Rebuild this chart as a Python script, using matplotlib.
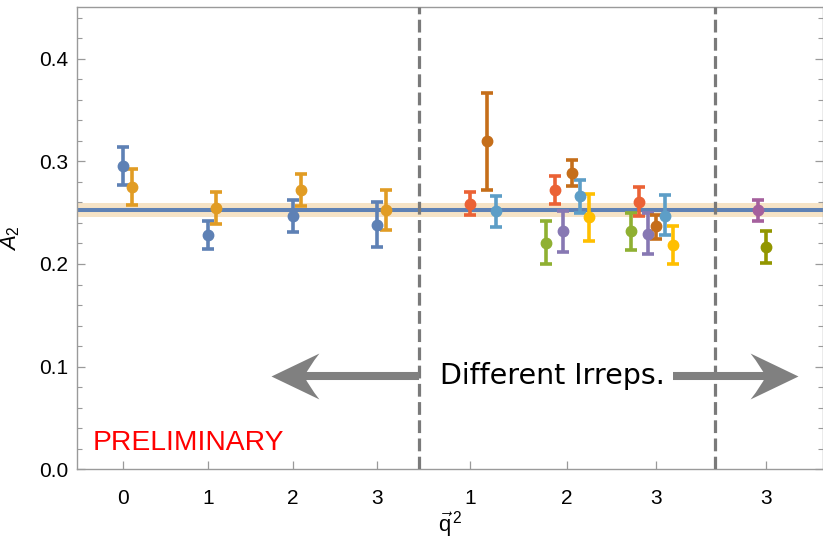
import matplotlib
matplotlib.use('Agg')
import matplotlib.pyplot as plt
from matplotlib.path import Path
from matplotlib.ticker import MultipleLocator

plt.rcParams['font.family'] = ['Liberation Sans', 'DejaVu Sans']
plt.rcParams['mathtext.fontset'] = 'custom'
plt.rcParams['mathtext.rm'] = 'Liberation Sans'
plt.rcParams['mathtext.it'] = 'Liberation Sans:italic'

# ---- data ----
# first block: q^2 = 0..3, two series
blue_x = [0.0, 1.0, 2.0, 3.0]
blue_y = [0.295, 0.228, 0.247, 0.238]
blue_lo = [0.2765, 0.2147, 0.2316, 0.2169]
blue_hi = [0.3141, 0.2423, 0.2623, 0.2603]

orange_x = [0.1, 1.1, 2.1, 3.1]
orange_y = [0.275, 0.2545, 0.2717, 0.2521]
orange_lo = [0.2574, 0.2388, 0.2560, 0.2332]
orange_hi = [0.2928, 0.2697, 0.2873, 0.2717]

# second block: moving frames, one colour per irrep
green_x = [5.0, 6.0]
green_y = [0.2208, 0.2323]
green_lo = [0.2003, 0.2137]
green_hi = [0.2420, 0.2496]

red_x = [4.1, 5.1, 6.1]
red_y = [0.2584, 0.2723, 0.2606]
red_lo = [0.2479, 0.2589, 0.2463]
red_hi = [0.2697, 0.2853, 0.2750]

purple_x = [5.2, 6.2]
purple_y = [0.2326, 0.2290]
purple_lo = [0.2120, 0.2095]
purple_hi = [0.2515, 0.2496]

brown_x = [4.3, 5.3, 6.3]
brown_y = [0.3193, 0.2887, 0.2371]
brown_lo = [0.2723, 0.2756, 0.2241]
brown_hi = [0.3669, 0.3017, 0.2479]

lblue_x = [4.4, 5.4, 6.4]
lblue_y = [0.2518, 0.2665, 0.2472]
lblue_lo = [0.2365, 0.2501, 0.2283]
lblue_hi = [0.2658, 0.2821, 0.2668]

yellow_x = [5.5, 6.5]
yellow_y = [0.2456, 0.2186]
yellow_lo = [0.2225, 0.1997]
yellow_hi = [0.2681, 0.2371]

# third block
magenta_x = [7.5]
magenta_y = [0.2521]
magenta_lo = [0.2423]
magenta_hi = [0.2626]

olive_x = [7.6]
olive_y = [0.2169]
olive_lo = [0.2013]
olive_hi = [0.2326]

# fit result
fit_value = 0.2525
fit_err = 0.007

tick_pos = [0, 1, 2, 3, 4.1, 5.24, 6.3, 7.6]
tick_labels = ['0', '1', '2', '3', '1', '2', '3', '3']
separators = [3.5, 6.99]

series = [
    (blue_x, blue_y, blue_lo, blue_hi, '#5E81B5'),
    (orange_x, orange_y, orange_lo, orange_hi, '#E19C24'),
    (green_x, green_y, green_lo, green_hi, '#8FB032'),
    (red_x, red_y, red_lo, red_hi, '#EB6235'),
    (purple_x, purple_y, purple_lo, purple_hi, '#8778B3'),
    (brown_x, brown_y, brown_lo, brown_hi, '#C56E1A'),
    (lblue_x, lblue_y, lblue_lo, lblue_hi, '#5D9EC7'),
    (yellow_x, yellow_y, yellow_lo, yellow_hi, '#FFBF00'),
    (magenta_x, magenta_y, magenta_lo, magenta_hi, '#A5609D'),
    (olive_x, olive_y, olive_lo, olive_hi, '#929600'),
]

fig = plt.figure(figsize=(8.23, 5.41), dpi=100)
ax = fig.add_axes([0.0932, 0.1325, 0.9068, 0.854])

frame_col = '#9a9a9a'

# fit band and line
ax.axhspan(fit_value - fit_err, fit_value + fit_err, color='#F6E3C6', zorder=1, lw=0)
ax.axhline(fit_value, color='#5E81B5', lw=2.9, zorder=2)

# data points
for x, y, lo, hi, col in series:
    yerr = [[c - l for c, l in zip(y, lo)], [h - c for c, h in zip(y, hi)]]
    ax.errorbar(x, y, yerr=yerr, fmt='o', color=col, ms=7.5, elinewidth=2.6,
                capsize=4.3, capthick=2.6, zorder=4)

# separators
for s in separators:
    ln = ax.axvline(s, color='#7a7a7a', lw=2.3, zorder=3)
    ln.set_dashes((4.0, 1.7))

# arrows with swept heads
arrow_col = '#808080'
y_arrow = 0.091
head_r = Path([(0, 0), (-48, 23), (-37, 9), (-33, 0), (-37, -9), (-48, -23), (0, 0)],
              [Path.MOVETO, Path.LINETO, Path.CURVE3, Path.CURVE3, Path.CURVE3, Path.CURVE3, Path.CLOSEPOLY])
head_l = Path([(-vx, vy) for vx, vy in head_r.vertices], head_r.codes)

left_tip, left_start = 1.75, 3.5
right_start, right_tip = 6.5, 7.98
ax.plot([left_start, left_tip + 0.3], [y_arrow, y_arrow], color=arrow_col, lw=5.8,
        solid_capstyle='butt', zorder=5)
ax.plot([right_start, right_tip - 0.3], [y_arrow, y_arrow], color=arrow_col, lw=5.8,
        solid_capstyle='butt', zorder=5)
ax.plot([left_tip], [y_arrow], marker=head_l, ms=69, color=arrow_col, mew=0, zorder=5)
ax.plot([right_tip], [y_arrow], marker=head_r, ms=69, color=arrow_col, mew=0, zorder=5)

ax.text(5.07, y_arrow, 'Different Irreps.', fontsize=20.5, family='DejaVu Sans',
        ha='center', va='center', zorder=6,
        bbox=dict(facecolor='white', edgecolor='none', pad=3))

ax.text(0.021, 0.058, 'PRELIMINARY', color='red', fontsize=20.3,
        transform=ax.transAxes, ha='left', va='center', zorder=6)

ax.set_xlim(-0.551, 8.27)
ax.set_ylim(0, 0.45)
ax.set_xticks(tick_pos)
ax.set_xticklabels(tick_labels)
ax.yaxis.set_major_locator(MultipleLocator(0.1))
ax.yaxis.set_minor_locator(MultipleLocator(0.02))
ax.set_yticklabels([f'{v:.1f}' for v in ax.get_yticks()])
ax.set_ylim(0, 0.45)

for sp in ax.spines.values():
    sp.set_color(frame_col)
    sp.set_linewidth(1.0)

ax.tick_params(axis='x', which='major', direction='in', length=6, width=0.9,
               color=frame_col, labelsize=15, pad=14, top=False)
ax.tick_params(axis='y', which='major', direction='in', length=5.5, width=0.9,
               color=frame_col, labelsize=15, pad=6, right=True)
ax.tick_params(axis='y', which='minor', direction='in', length=3.5, width=0.8,
               color=frame_col, right=True)

ax.set_ylabel(r'$\mathit{A}_2$', fontsize=16, labelpad=12)
ax.set_xlabel(r'$\vec{\mathrm{q}}^{\,2}$', fontsize=16, labelpad=1)

fig.savefig('out.png', dpi=100)
